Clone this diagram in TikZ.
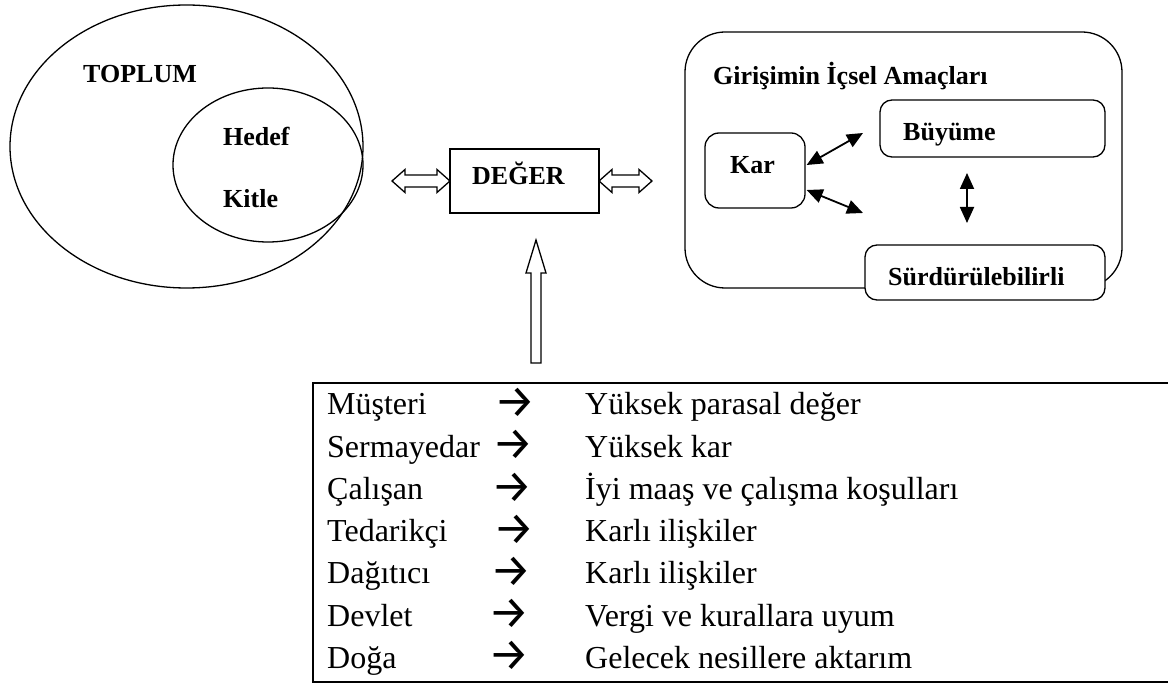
\documentclass[tikz,border=0pt]{standalone}
\usepackage{fontspec}
\setmainfont{Liberation Serif}
\newfontfamily\arrfont{Fira Sans}
\usetikzlibrary{arrows.meta,shapes.geometric,calc}
\begin{document}
\begin{tikzpicture}[x=1pt,y=-1pt,
  lbl/.style={font=\bfseries\fontsize{26}{30}\selectfont, inner sep=0pt, anchor=base west},
  rowtxt/.style={font=\fontsize{32}{36}\selectfont, inner sep=0pt, anchor=base west},
  rowarr/.style={font=\arrfont\fontsize{46}{50}\selectfont, inner sep=0pt, anchor=center},
  oval/.style={draw, ellipse, line width=1.3pt, inner sep=0pt},
  sqbox/.style={draw, line width=1.3pt, inner sep=0pt},
  rbox/.style={draw, line width=1.3pt, inner sep=0pt, fill=white},
  biarr/.style={{Triangle[length=16pt,width=14pt]}-{Triangle[length=16pt,width=14pt]}, line width=1.8pt},
  hollow/.style={draw, line width=1.3pt, fill=white, line join=miter}
]
\useasboundingbox (0,0) rectangle (1168,684);

% Ellipses
\node[oval, minimum width=353pt, minimum height=283pt] (toplum) at (186.5,146.5) {};
\node[oval, minimum width=190pt, minimum height=154pt] (hedef) at (268,165) {};
\node[lbl] (tlabel) at (83,83) {TOPLUM};
\node[lbl] (hlabel) at (223,146) {Hedef};
\node[lbl] (klabel) at (223,208) {Kitle};

% DEGER box
\node[sqbox, minimum width=149pt, minimum height=64pt] (deger) at (524.5,181) {};
\node[lbl] (dlabel) at (472,185) {DEĞER};

% hollow double arrows
\draw[hollow] (392,181) -- (405,169.5) -- (405,175) -- (437,175) -- (437,169.5) -- (450,181)
  -- (437,192.5) -- (437,187) -- (405,187) -- (405,192.5) -- cycle;
\draw[hollow] (599,181) -- (612,169.5) -- (612,175) -- (639,175) -- (639,169.5) -- (652,181)
  -- (639,192.5) -- (639,187) -- (612,187) -- (612,192.5) -- cycle;

% hollow up arrow
\draw[hollow] (536,240) -- (546,273) -- (541,273) -- (541,363) -- (531,363) -- (531,273)
  -- (526,273) -- cycle;

% Goals box
\node[draw, line width=1.3pt, rounded corners=40pt, minimum width=437pt, minimum height=256pt, inner sep=0pt] (goals) at (903.5,160) {};
\node[lbl] (glabel) at (713,85) {Girişimin İçsel Amaçları};

\node[rbox, rounded corners=14pt, minimum width=100pt, minimum height=75pt] (kar) at (755,170.5) {};
\node[lbl] at (730,174) {Kar};
\node[rbox, rounded corners=12pt, minimum width=225pt, minimum height=57pt] (buyume) at (992.5,128.5) {};
\node[lbl] at (903,141) {Büyüme};
\node[rbox, rounded corners=12pt, minimum width=240pt, minimum height=55pt] (surd) at (985,272.5) {};
\node[lbl] at (888,286) {Sürdürülebilirli};

\coordinate (a1) at (863,133);
\coordinate (a2) at (863,213);
\coordinate (v1) at (967,173);
\coordinate (v2) at (967,223);
\draw[biarr] ($(kar.east)+(1,-5.5)$) -- (a1);
\draw[biarr] ($(kar.east)+(1,19.5)$) -- (a2);
\draw[biarr] (v1) -- (v2);

% Table
\draw[line width=2pt] (1175,383) -- (313,383) -- (313,682) -- (1175,682);
\foreach \i/\l/\r/\ax in {0/Müşteri/Yüksek parasal değer/515,
                        1/Sermayedar/Yüksek kar/513,
                        2/Çalışan/İyi maaş ve çalışma koşulları/512,
                        3/Tedarikçi/Karlı ilişkiler/514,
                        4/Dağıtıcı/Karlı ilişkiler/511,
                        5/Devlet/Vergi ve kurallara uyum/509,
                        6/Doğa/Gelecek nesillere aktarım/509}{
  \node[rowtxt] (l\i) at (327,415+42.2*\i) {\l};
  \node[rowarr] (m\i) at (\ax,403+42.2*\i) {→};
  \node[rowtxt] (r\i) at (585,415+42.2*\i) {\r};
}
\end{tikzpicture}
\end{document}
